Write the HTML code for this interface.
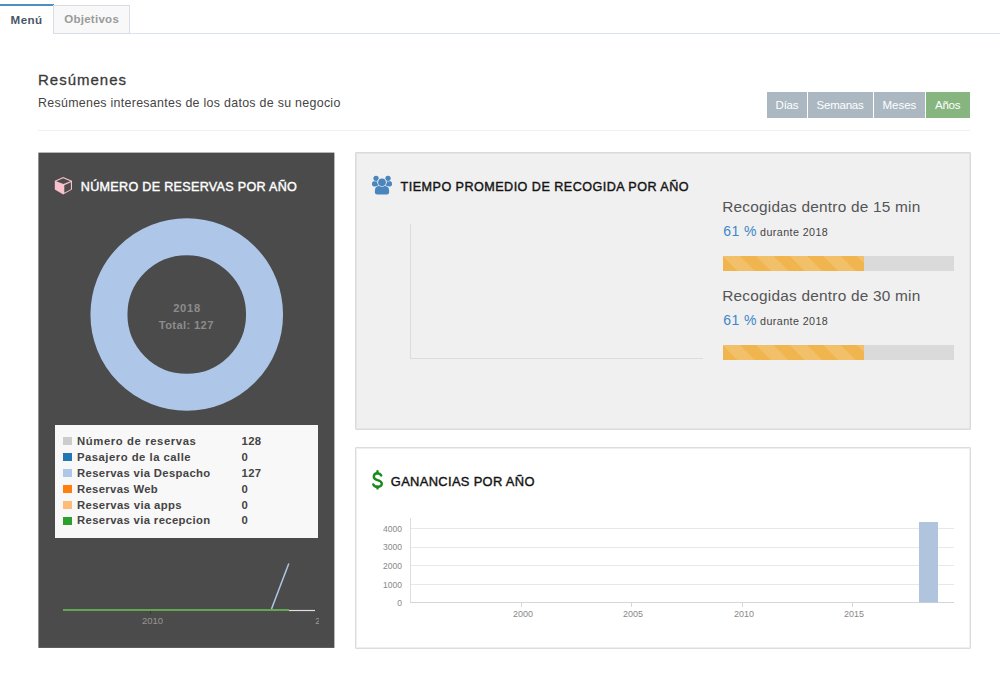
<!DOCTYPE html>
<html><head><meta charset="utf-8">
<style>
html,body{margin:0;padding:0;background:#fff;width:1000px;height:679px;overflow:hidden;position:relative;font-family:"Liberation Sans",sans-serif;}
.a{position:absolute;}
.t{position:absolute;white-space:nowrap;line-height:1;}
.stripe{background-color:#f0b54e;background-image:linear-gradient(45deg,rgba(255,255,255,.15) 25%,transparent 25%,transparent 50%,rgba(255,255,255,.15) 50%,rgba(255,255,255,.15) 75%,transparent 75%,transparent);background-size:33.6px 33.6px;}
</style></head><body>
<!-- tabs -->
<div class="a" style="left:0;top:33px;width:1000px;height:1px;background:#dde3ea"></div>
<div class="a" style="left:0;top:4px;width:54px;height:30px;background:#fff;border-top:2px solid #4e8ec2;box-sizing:border-box"></div>
<div class="a" style="left:53px;top:5px;width:77px;height:29px;background:#f8f8f8;border:1px solid #d6dde6;box-sizing:border-box"></div>
<div class="t" id="menu" style="left:10.6px;top:13.8px;font-size:11.6px;font-weight:bold;color:#4a5566;letter-spacing:0.400px">Menú</div>
<div class="t" id="obj" style="left:64.2px;top:13.9px;font-size:11.5px;font-weight:bold;color:#9a9a9a;letter-spacing:0.275px">Objetivos</div>

<!-- header -->
<div class="t" id="h1" style="left:38.0px;top:72.0px;font-size:15px;color:#3a3a3a;-webkit-text-stroke:0.3px #3a3a3a;letter-spacing:1.000px">Resúmenes</div>
<div class="t" id="h2" style="left:38.0px;top:97.2px;font-size:12.4px;color:#444;letter-spacing:0.300px">Resúmenes interesantes de los datos de su negocio</div>
<div class="a" style="left:38px;top:130px;width:932px;height:1px;background:#f0f0f0"></div>

<!-- buttons -->
<div class="a" style="left:767px;top:92px;width:40px;height:26px;background:#abb8c2"></div>
<div class="a" style="left:808px;top:92px;width:65px;height:26px;background:#abb8c2"></div>
<div class="a" style="left:874px;top:92px;width:51px;height:26px;background:#abb8c2"></div>
<div class="a" style="left:926px;top:92px;width:44px;height:26px;background:#86b57f"></div>
<div class="t" id="b1" style="left:775.6px;top:99.9px;font-size:11.5px;color:#fff;letter-spacing:-0.267px">Días</div>
<div class="t" id="b2" style="left:816.6px;top:99.9px;font-size:11.5px;color:#fff;letter-spacing:-0.233px">Semanas</div>
<div class="t" id="b3" style="left:882.6px;top:99.9px;font-size:11.5px;color:#fff;letter-spacing:-0.050px">Meses</div>
<div class="t" id="b4" style="left:935.0px;top:99.9px;font-size:11.5px;color:#fff;letter-spacing:-0.267px">Años</div>

<!-- dark panel -->
<svg class="a" style="left:0;top:0" width="1000" height="679" viewBox="0 0 1000 679"><rect x="38.4" y="152.6" width="296" height="495.3" fill="#4b4b4b"/></svg>
<svg class="a" style="left:0;top:0" width="1000" height="679" viewBox="0 0 1000 679">
  <!-- cube icon -->
  <polygon points="63.2,177 72,180.8 72,189.6 63.2,194.6 54.8,189.6 54.8,180.8" fill="#f9c1cb"/>
  <polygon points="63.2,178.3 70.4,181.2 63.5,184 56.2,181.2" fill="#4b4b4b"/>
  <polygon points="64.3,185.2 70.9,182.3 70.9,189.2 64.3,192.7" fill="#4b4b4b"/>
  <!-- donut -->
  <circle cx="186.75" cy="314.5" r="77.8" fill="none" stroke="#aec7e8" stroke-width="37"/>
  <!-- mini chart -->
  <line x1="63" y1="610" x2="289" y2="610" stroke="#63a650" stroke-width="2"/>
  <line x1="289" y1="610.5" x2="315" y2="610.5" stroke="#e0e0e0" stroke-width="1.2"/>
  <line x1="271.5" y1="609" x2="288.8" y2="563.5" stroke="#aec7e8" stroke-width="1.5"/>
  <line x1="150.5" y1="611" x2="150.5" y2="614" stroke="#3a3a3a" stroke-width="1"/>
</svg>
<div class="t" id="darkTitle" style="left:80.8px;top:181.1px;font-size:12.6px;color:#fff;-webkit-text-stroke:0.4px #fff;letter-spacing:0.292px">NÚMERO DE RESERVAS POR AÑO</div>
<div class="t" id="d2018" style="left:173.2px;top:302.6px;font-size:11.2px;font-weight:bold;color:#8c8c8c;letter-spacing:0.700px">2018</div>
<div class="t" id="dTotal" style="left:158.8px;top:319.6px;font-size:11.2px;font-weight:bold;color:#8c8c8c;letter-spacing:0.356px">Total: 127</div>
<div class="a" style="left:55px;top:425px;width:263px;height:113px;background:#f8f8f8"></div>
<div class="a" style="left:63px;top:437.2px;width:8.6px;height:7.8px;background:#cccccc"></div>
<div class="a" style="left:63px;top:453.1px;width:8.6px;height:7.8px;background:#1f77b4"></div>
<div class="a" style="left:63px;top:469.1px;width:8.6px;height:7.8px;background:#aec7e8"></div>
<div class="a" style="left:63px;top:485.0px;width:8.6px;height:7.8px;background:#ff7f0e"></div>
<div class="a" style="left:63px;top:501.0px;width:8.6px;height:7.8px;background:#ffbb78"></div>
<div class="a" style="left:63px;top:517.0px;width:8.6px;height:7.8px;background:#2ca02c"></div>
<div class="t" id="lg1" style="left:77.0px;top:435.9px;font-size:11.3px;font-weight:bold;color:#444;letter-spacing:0.600px">Número de reservas</div>
<div class="t" id="lg2" style="left:77.0px;top:451.8px;font-size:11.3px;font-weight:bold;color:#444;letter-spacing:0.495px">Pasajero de la calle</div>
<div class="t" id="lg3" style="left:77.0px;top:467.7px;font-size:11.3px;font-weight:bold;color:#444;letter-spacing:0.350px">Reservas via Despacho</div>
<div class="t" id="lg4" style="left:77.0px;top:483.6px;font-size:11.3px;font-weight:bold;color:#444;letter-spacing:0.336px">Reservas Web</div>
<div class="t" id="lg5" style="left:77.0px;top:499.5px;font-size:11.3px;font-weight:bold;color:#444;letter-spacing:0.375px">Reservas via apps</div>
<div class="t" id="lg6" style="left:77.0px;top:515.4px;font-size:11.3px;font-weight:bold;color:#444;letter-spacing:0.357px">Reservas via recepcion</div>
<div class="t" style="left:241.5px;top:435.9px;font-size:11.3px;font-weight:bold;color:#444;letter-spacing:0.4px">128</div>
<div class="t" style="left:241.5px;top:451.8px;font-size:11.3px;font-weight:bold;color:#444;letter-spacing:0.4px">0</div>
<div class="t" style="left:241.5px;top:467.7px;font-size:11.3px;font-weight:bold;color:#444;letter-spacing:0.4px">127</div>
<div class="t" style="left:241.5px;top:483.6px;font-size:11.3px;font-weight:bold;color:#444;letter-spacing:0.4px">0</div>
<div class="t" style="left:241.5px;top:499.5px;font-size:11.3px;font-weight:bold;color:#444;letter-spacing:0.4px">0</div>
<div class="t" style="left:241.5px;top:515.4px;font-size:11.3px;font-weight:bold;color:#444;letter-spacing:0.4px">0</div>
<div class="t" style="left:142px;top:616px;font-size:9.5px;color:#959595">2010</div>
<div class="a" style="left:315px;top:615px;width:4px;height:12px;overflow:hidden"><div class="t" style="left:0.2px;top:2px;font-size:9px;color:#999">2</div></div>

<!-- gray card -->
<div class="a" style="left:355px;top:152px;width:616px;height:278px;background:#f0f0f0;border:1px solid #dadada;box-shadow:inset 0 0 0 1px #e6e6e6;border-radius:1px;box-sizing:border-box"></div>
<svg class="a" style="left:0;top:0" width="1000" height="679" viewBox="0 0 1000 679">
  <!-- users icon -->
  <g fill="#4a85be">
    <path d="M373.8,186.4 Q372,186.4 372,184.6 L372,183.8 Q372,181 374.8,181 L378.6,181 L378.6,186.4 Z"/>
    <path d="M390.2,186.4 Q392,186.4 392,184.6 L392,183.8 Q392,181 389.2,181 L385.4,181 L385.4,186.4 Z"/>
  </g>
  <circle cx="376.05" cy="178.3" r="3.3" fill="#f0f0f0"/>
  <circle cx="388" cy="178.3" r="3.3" fill="#f0f0f0"/>
  <circle cx="376.05" cy="178.3" r="2.65" fill="#4a85be"/>
  <circle cx="388" cy="178.3" r="2.65" fill="#4a85be"/>
  <g fill="#f0f0f0">
    <circle cx="382" cy="182.3" r="4.6"/>
    <path d="M374.2,192.2 L374.2,190.6 Q374.2,185.4 379.4,185.4 L384.6,185.4 Q389.8,185.4 389.8,190.6 L389.8,192.2 Q389.8,195.2 386.8,195.2 L377.2,195.2 Q374.2,195.2 374.2,192.2 Z"/>
  </g>
  <g fill="#4a85be">
    <path d="M374.9,192.2 L374.9,190.6 Q374.9,186.1 379.4,186.1 L384.6,186.1 Q389.1,186.1 389.1,190.6 L389.1,192.2 Q389.1,194.5 386.8,194.5 L377.2,194.5 Q374.9,194.5 374.9,192.2 Z"/>
  </g>
  <circle cx="382" cy="182.3" r="4.5" fill="#f0f0f0"/>
  <circle cx="382" cy="182.3" r="3.85" fill="#4a85be"/>
  <!-- axis -->
  <line x1="410.5" y1="224" x2="410.5" y2="359" stroke="#dcdcdc" stroke-width="1"/>
  <line x1="410" y1="358.5" x2="703" y2="358.5" stroke="#dcdcdc" stroke-width="1"/>
</svg>
<div class="t" id="grayTitle" style="left:400.6px;top:180.9px;font-size:12.6px;color:#141414;-webkit-text-stroke:0.4px #141414;letter-spacing:0.462px">TIEMPO PROMEDIO DE RECOGIDA POR AÑO</div>

<div class="t" id="rec15" style="left:722.2px;top:199.2px;font-size:15.4px;color:#555;letter-spacing:0.224px">Recogidas dentro de 15 min</div>
<div class="t" id="pct1" style="left:723.2px;top:224.4px;font-size:14px;color:#3d87c7;letter-spacing:0.467px">61 %</div>
<div class="t" id="dur1" style="left:760.0px;top:227.2px;font-size:10.7px;color:#444;letter-spacing:0.436px">durante 2018</div>
<div class="a" style="left:723px;top:256px;width:231px;height:15px;background:#dadada"></div>
<div class="a stripe" style="left:723px;top:256px;width:141px;height:15px"></div>

<div class="t" id="rec30" style="left:722.2px;top:288.2px;font-size:15.4px;color:#555;letter-spacing:0.224px">Recogidas dentro de 30 min</div>
<div class="t" id="pct2" style="left:723.2px;top:313.4px;font-size:14px;color:#3d87c7;letter-spacing:0.467px">61 %</div>
<div class="t" id="dur2" style="left:760.0px;top:316.2px;font-size:10.7px;color:#444;letter-spacing:0.436px">durante 2018</div>
<div class="a" style="left:723px;top:345px;width:231px;height:15px;background:#dadada"></div>
<div class="a stripe" style="left:723px;top:345px;width:141px;height:15px"></div>

<!-- white card -->
<div class="a" style="left:355px;top:447px;width:616px;height:202px;background:#fff;border:1px solid #dcdcdc;box-shadow:inset 0 0 0 1px #efefef;border-radius:1px;box-sizing:border-box"></div>
<svg class="a" style="left:0;top:0" width="1000" height="679" viewBox="0 0 1000 679">
  <g stroke="#e8e8e8" stroke-width="1">
    <line x1="410" y1="528.5" x2="954" y2="528.5"/>
    <line x1="410" y1="547.5" x2="954" y2="547.5"/>
    <line x1="410" y1="565.5" x2="954" y2="565.5"/>
    <line x1="410" y1="584.5" x2="954" y2="584.5"/>
  </g>
  <line x1="410.5" y1="518" x2="410.5" y2="603" stroke="#dddddd" stroke-width="1"/>
  <line x1="410" y1="602.5" x2="954" y2="602.5" stroke="#d6d6d6" stroke-width="1"/>
  <g stroke="#d6d6d6" stroke-width="1">
    <line x1="521.5" y1="603" x2="521.5" y2="607"/>
    <line x1="631.5" y1="603" x2="631.5" y2="607"/>
    <line x1="742.5" y1="603" x2="742.5" y2="607"/>
    <line x1="852.5" y1="603" x2="852.5" y2="607"/>
  </g>
  <rect x="919" y="522" width="19" height="80.5" fill="#b0c4de"/>
</svg>
<svg class="a" style="left:0;top:0" width="1000" height="679" viewBox="0 0 1000 679"><g fill="none" stroke="#1a8a1a" stroke-width="2.4" stroke-linecap="round"><path d="M381.2,475.4 C380.4,473.9 379.1,473.2 377.5,473.2 C375.3,473.2 373.8,474.7 373.8,476.7 C373.8,478.8 375.3,479.5 377.5,480.1 C380,480.8 381.8,481.6 381.8,483.6 C381.8,485.6 379.9,486.8 377.5,486.8 C375.5,486.8 374,486 373.3,484.4"/><path d="M377.5,471.3 L377.5,473.2 M377.5,486.8 L377.5,488.4"/></g></svg>
<div class="t" id="ganTitle" style="left:390.8px;top:475.5px;font-size:12.9px;color:#141414;-webkit-text-stroke:0.4px #141414;letter-spacing:0.338px">GANANCIAS POR AÑO</div>
<div class="t" style="left:383px;top:524.5px;font-size:8.5px;color:#888;width:19px;text-align:right">4000</div>
<div class="t" style="left:383px;top:543px;font-size:8.5px;color:#888;width:19px;text-align:right">3000</div>
<div class="t" style="left:383px;top:561.5px;font-size:8.5px;color:#888;width:19px;text-align:right">2000</div>
<div class="t" style="left:383px;top:580.5px;font-size:8.5px;color:#888;width:19px;text-align:right">1000</div>
<div class="t" style="left:383px;top:598.5px;font-size:8.5px;color:#888;width:19px;text-align:right">0</div>
<div class="t" style="left:503px;top:609.5px;font-size:9px;color:#888;width:40px;text-align:center">2000</div>
<div class="t" style="left:613px;top:609.5px;font-size:9px;color:#888;width:40px;text-align:center">2005</div>
<div class="t" style="left:724px;top:609.5px;font-size:9px;color:#888;width:40px;text-align:center">2010</div>
<div class="t" style="left:834px;top:609.5px;font-size:9px;color:#888;width:40px;text-align:center">2015</div>

</body></html>
